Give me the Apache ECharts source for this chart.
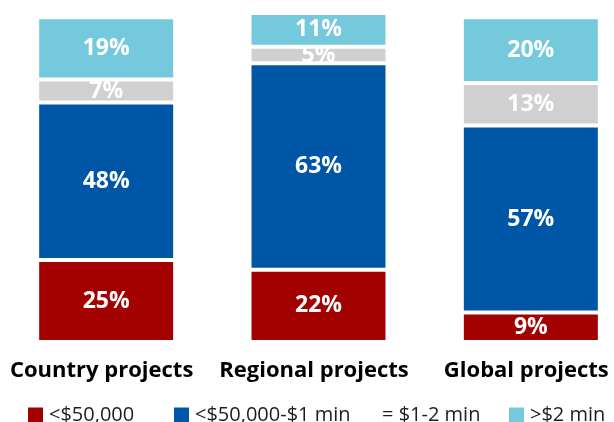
<!DOCTYPE html>
<html>
<head>
<meta charset="utf-8">
<style>
  html, body { margin: 0; padding: 0; background: #fff; }
  #chart { width: 614px; height: 422px; }
</style>
<script src="https://cdn.jsdelivr.net/npm/echarts@6/dist/echarts.min.js"></script>
</head>
<body>
<div id="chart"></div>
<script>
// Project categories along the x axis
const categories = ['Country projects', 'Regional projects', 'Global projects'];

// Share of projects (%) in each cost bracket
const under50k = [25, 22, 9];
const from50kTo1m = [48, 63, 57];
const from1To2m = [7, 5, 13];
const over2m = [19, 11, 20];

// Series names as shown in the legend
const seriesNames = ['<$50,000', '<$50,000-$1 min', '$1-2 min', '>$2 min'];
const seriesColors = ['#a30000', '#0056a6', '#d0d0d0', '#75c9dc'];
const seriesValues = [under50k, from50kTo1m, from1To2m, over2m];

const chart = echarts.init(document.getElementById('chart'), null, { renderer: 'canvas' });

const FONT = '"Open Sans", "Noto Sans", sans-serif';

const series = seriesNames.map((name, i) => ({
  name: name,
  type: 'bar',
  stack: 'total',
  barWidth: 138,
  data: seriesValues[i],
  itemStyle: { color: seriesColors[i], borderColor: '#ffffff', borderWidth: 2 },
  label: {
    show: true,
    position: 'inside',
    formatter: '{c}%',
    color: '#ffffff',
    fontFamily: FONT,
    fontWeight: 'bold',
    fontSize: 23
  },
  emphasis: { disabled: true }
}));

// One legend block per item so each sits at its own spot on the bottom row
const legendLefts = [26, 172, 377, 507];
const legends = seriesNames.map((name, i) => ({
  left: legendLefts[i],
  top: 405,
  orient: 'horizontal',
  padding: 0,
  itemWidth: i === 2 ? 0.01 : 17,
  itemHeight: 17,
  selectedMode: false,
  data: [{ name: name, icon: i === 2 ? 'none' : 'rect' }],
  formatter: n => (n === '$1-2 min' ? '= ' + n : n),
  textStyle: { fontFamily: FONT, fontSize: 20, color: '#1e1e1e' }
}));

chart.setOption({
  animation: false,
  backgroundColor: '#ffffff',
  grid: {
    left: 0, top: 14, width: 637, height: 328,
    containLabel: false,
    outerBoundsMode: 'none'
  },
  xAxis: {
    type: 'category',
    data: categories,
    axisLine: { show: false },
    axisTick: { show: false },
    axisLabel: {
      interval: 0,
      hideOverlap: false,
      margin: 18,
      color: '#000000',
      fontFamily: FONT,
      fontWeight: 'bold',
      fontSize: 22,
      padding: [0, 9, 0, 0]
    }
  },
  yAxis: { type: 'value', min: 0, max: 100, show: false },
  legend: legends,
  series: series
});
</script>
</body>
</html>
